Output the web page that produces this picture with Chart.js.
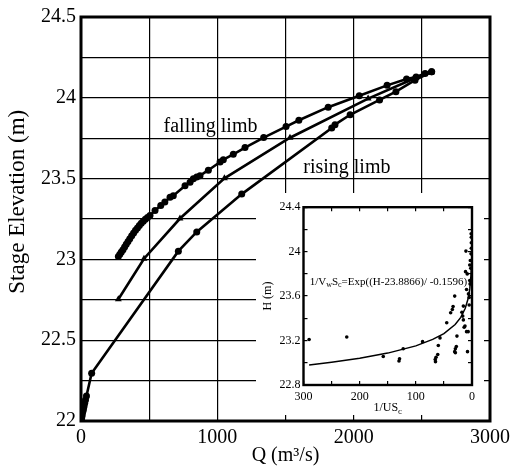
<!DOCTYPE html>
<html>
<head>
<meta charset="utf-8">
<script src="https://cdn.jsdelivr.net/npm/chart.js@4.4.1/dist/chart.umd.min.js"></script>
<style>
body{margin:0;background:#fff;}
#wrap{position:relative;width:520px;height:472px;}
#main{position:absolute;left:0;top:0;}
#inset{position:absolute;left:256px;top:193px;background:#fff;}
</style>
</head>
<body>
<div id="wrap">
  <canvas id="main" width="520" height="472"></canvas>
  <canvas id="inset" width="228" height="222"></canvas>
</div>
<script>
// ---- main chart: stage vs discharge loop ----
const fallingQ=[274,285,296,308,320,332,345,358,372,386,400,414,428,442,457,472,488,506,543,585,615,653,677,763,800,824,849,873,934,1020,1044,1117,1203,1340,1504,1598,1813,2041,2245,2388,2458,2524,2572];
const fallingH=[23.018,23.032,23.046,23.060,23.076,23.093,23.110,23.128,23.146,23.163,23.180,23.195,23.210,23.223,23.236,23.248,23.260,23.272,23.303,23.333,23.355,23.384,23.394,23.456,23.477,23.499,23.510,23.518,23.552,23.603,23.617,23.650,23.692,23.754,23.822,23.861,23.942,24.013,24.077,24.117,24.129,24.151,24.161];

const middleQ=[274,462,726,1052,1533,2106,2440,2560];
const middleH=[22.753,23.004,23.253,23.502,23.753,23.995,24.118,24.158];

const risingQ=[0,2,4,7,10,14,18,22,27,33,40,78,714,849,1179,1839,1863,1974,2190,2310,2450,2572];
const risingH=[22.0,22.005,22.015,22.03,22.045,22.06,22.075,22.09,22.11,22.13,22.155,22.295,23.051,23.170,23.404,23.813,23.834,23.895,23.987,24.038,24.109,24.161];

const limbLabels=[
  {text:"falling limb",q:950,h:23.82},
  {text:"rising limb",q:1950,h:23.57}
];

// ---- inset: H vs 1/US_c ----
const insetX=[290,223,158,130,129,122.5,88,65.5,65,64,61,60,57,45,38,35,33.7,30.8,30.8,29.6,29.6,27.9,26.8,18,16.5,15.4,15.4,14,12.5,11.5,10.8,9.7,9.7,8.5,8,6.8,6.3,5,5,4,4,3.4,3,2.2,1.7,1.2,1.2,1.2,1.5];
const insetH=[23.209,23.232,23.057,23.016,23.036,23.126,23.19,23.03,23.01,23.05,23.074,23.155,23.224,23.36,23.45,23.48,23.507,23.6,23.10,23.09,23.126,23.146,23.24,23.455,23.42,23.386,23.51,23.32,23.33,23.82,24.005,23.28,23.66,23.80,23.10,23.28,23.62,23.587,23.52,23.74,23.88,23.71,23.92,23.85,23.98,24.03,24.08,24.13,24.16];

const fitX=[290,250,200,150,100,70,50,30,20,12,7,4,2,1,0.5,0.3,0.2];
const fitH=[22.98,23.005,23.041,23.087,23.152,23.21,23.262,23.344,23.408,23.49,23.576,23.665,23.776,23.887,23.997,24.079,24.143];

const FONT="'Liberation Serif','Times New Roman',serif";
Chart.defaults.font.family=FONT;
Chart.defaults.color="#000";

function pts(xs,ys){return xs.map((x,i)=>({x,y:ys[i]}));}

const frame={
  id:"frame",
  afterDraw(c,args,opts){
    const a=c.chartArea, ctx=c.ctx;
    ctx.save();
    ctx.strokeStyle="#000";
    ctx.lineWidth=opts.width||3;
    ctx.strokeRect(a.left,a.top,a.right-a.left,a.bottom-a.top);
    ctx.restore();
  }
};

const limbText={
  id:"limbText",
  afterDraw(c){
    const {ctx,scales:{x,y}}=c;
    ctx.save();
    ctx.font="20px "+FONT;
    ctx.fillStyle="#000";
    ctx.textAlign="center";
    ctx.textBaseline="middle";
    limbLabels.forEach(l=>ctx.fillText(l.text,x.getPixelForValue(l.q),y.getPixelForValue(l.h)));
    ctx.restore();
  }
};

const lineSet=(data,style,r)=>({
  data,showLine:true,borderColor:"#000",borderWidth:2.6,backgroundColor:"#000",
  pointStyle:style,pointRadius:r,pointBorderWidth:0,pointHoverRadius:r
});

new Chart(document.getElementById("main"),{
  type:"scatter",
  data:{datasets:[
    lineSet(pts(fallingQ,fallingH),"circle",3.5),
    lineSet(pts(middleQ,middleH),"triangle",4),
    lineSet(pts(risingQ,risingH),"circle",3.5)
  ]},
  options:{
    responsive:false,animation:false,devicePixelRatio:1,
    layout:{padding:{left:0,top:13,right:30,bottom:0}},
    plugins:{legend:{display:false},tooltip:{enabled:false},frame:{width:3}},
    scales:{
      x:{
        type:"linear",min:0,max:3000,
        ticks:{stepSize:500,padding:5,autoSkip:false,maxRotation:0,font:{size:20},
          callback:v=>v%1000===0?String(v):""},
        grid:{color:"#000",lineWidth:1.2,drawTicks:false},
        border:{display:false},
        title:{display:true,text:"Q (m³/s)",font:{size:20},padding:{top:0,bottom:4}},
        afterFit(s){s.height=51;}
      },
      y:{
        type:"linear",min:22,max:24.5,
        ticks:{stepSize:0.25,padding:5,autoSkip:false,font:{size:20},
          callback:v=>Math.round(v*100)%50===0?String(+v.toFixed(2)):""},
        grid:{color:"#000",lineWidth:1.2,drawTicks:false},
        border:{display:false},
        // leading spaces lift the rotated title a little above the axis centre, as in the source
        title:{display:true,text:"\u00a0\u00a0\u00a0\u00a0\u00a0\u00a0Stage Elevation (m)",font:{size:23},padding:{top:4,bottom:0}},
        afterFit(s){s.width=81;}
      }
    }
  },
  plugins:[frame,limbText]
});

// inset annotations: equation and x title with subscripts
function drawParts(ctx,parts,x,y){
  parts.forEach(p=>{
    ctx.font=p.size+"px "+FONT;
    ctx.fillText(p.t,x,y+(p.sub?3:0));
    x+=ctx.measureText(p.t).width;
  });
}
function partsWidth(ctx,parts){
  let w=0;
  parts.forEach(p=>{ctx.font=p.size+"px "+FONT;w+=ctx.measureText(p.t).width;});
  return w;
}
const eqParts=[{t:"1/V",size:11},{t:"w",size:8,sub:true},{t:"S",size:11},{t:"c",size:8,sub:true},{t:"=Exp((H-23.8866)/ -0.1596)",size:11}];
const xTitleParts=[{t:"1/US",size:12},{t:"c",size:9,sub:true}];
const eqPos={x:289,h:23.73};

const insetText={
  id:"insetText",
  afterDraw(c){
    const {ctx,scales:{x,y},chartArea:a}=c;
    ctx.save();
    ctx.fillStyle="#000";
    ctx.textAlign="left";
    ctx.textBaseline="middle";
    drawParts(ctx,eqParts,x.getPixelForValue(eqPos.x),y.getPixelForValue(eqPos.h));
    ctx.textBaseline="alphabetic";
    const w=partsWidth(ctx,xTitleParts);
    drawParts(ctx,xTitleParts,(a.left+a.right)/2-w/2,x.bottom-4);
    ctx.restore();
  }
};

const tickGrid={drawOnChartArea:false,drawTicks:true,tickLength:-4,color:"#000",lineWidth:1.2};

new Chart(document.getElementById("inset"),{
  type:"scatter",
  data:{datasets:[
    {data:pts(insetX,insetH),backgroundColor:"#000",pointRadius:1.8,pointBorderWidth:0,showLine:false},
    {data:pts(fitX,fitH),showLine:true,borderColor:"#000",borderWidth:1.5,pointRadius:0,pointHoverRadius:0}
  ]},
  options:{
    responsive:false,animation:false,devicePixelRatio:1,
    layout:{padding:{left:0,top:7.5,right:5,bottom:0}},
    plugins:{legend:{display:false},tooltip:{enabled:false},frame:{width:2.4}},
    scales:{
      x:{
        type:"linear",min:0,max:300,reverse:true,position:"bottom",
        ticks:{stepSize:50,padding:9,autoSkip:false,maxRotation:0,font:{size:12},
          callback:v=>v%100===0?String(v):""},
        grid:tickGrid,border:{display:false},
        afterFit(s){s.height=30;}
      },
      x2:{
        type:"linear",min:0,max:300,reverse:true,position:"top",
        ticks:{stepSize:50,display:false,autoSkip:false},
        grid:tickGrid,border:{display:false},
        afterFit(s){s.height=0;}
      },
      y:{
        type:"linear",min:22.8,max:24.4,position:"left",
        ticks:{stepSize:0.2,padding:7,autoSkip:false,font:{size:12},
          callback:v=>Math.round(v*10)%4===0?String(+v.toFixed(1)):""},
        grid:tickGrid,border:{display:false},
        title:{display:true,text:"H (m)",font:{size:12},padding:{top:5,bottom:0}},
        afterFit(s){s.width=47.5;}
      },
      y2:{
        type:"linear",min:22.8,max:24.4,position:"right",
        ticks:{stepSize:0.2,display:false,autoSkip:false},
        grid:tickGrid,border:{display:false},
        afterFit(s){s.width=0;}
      }
    }
  },
  plugins:[frame,insetText]
});
</script>
</body>
</html>
